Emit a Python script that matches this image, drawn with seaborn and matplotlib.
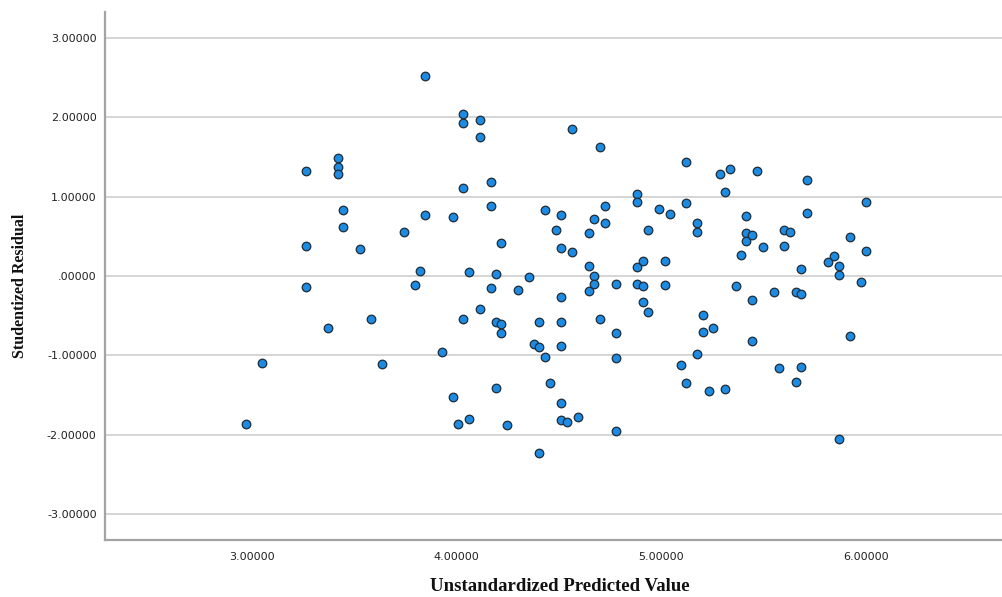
import matplotlib
matplotlib.use("Agg")
import matplotlib.pyplot as plt
import seaborn as sns
import pandas as pd

# Unstandardized predicted values of the regression model
predicted = [
    2.969, 3.049, 3.263, 3.263, 3.263, 3.369, 3.420, 3.420, 3.420, 3.447,
    3.447, 3.529, 3.581, 3.635, 3.741, 3.795, 3.819, 3.847, 3.847, 3.927,
    3.981, 3.981, 4.007, 4.033, 4.033, 4.033, 4.033, 4.061, 4.061, 4.113,
    4.113, 4.113, 4.167, 4.167, 4.167, 4.193, 4.193, 4.193, 4.219, 4.219,
    4.219, 4.247, 4.300, 4.352, 4.379, 4.405, 4.405, 4.405, 4.434, 4.434,
    4.456, 4.486, 4.512, 4.512, 4.512, 4.512, 4.512, 4.512, 4.512, 4.540,
    4.566, 4.566, 4.592, 4.646, 4.646, 4.646, 4.672, 4.674, 4.674, 4.700,
    4.700, 4.726, 4.726, 4.780, 4.780, 4.780, 4.780, 4.884, 4.884, 4.884,
    4.884, 4.912, 4.912, 4.912, 4.938, 4.938, 4.992, 5.018, 5.018, 5.046,
    5.098, 5.124, 5.124, 5.124, 5.178, 5.178, 5.178, 5.203, 5.203, 5.232,
    5.256, 5.286, 5.312, 5.312, 5.338, 5.366, 5.389, 5.416, 5.416, 5.416,
    5.446, 5.445, 5.445, 5.470, 5.498, 5.553, 5.578, 5.603, 5.603, 5.632,
    5.659, 5.659, 5.683, 5.683, 5.683, 5.712, 5.712, 5.816, 5.844, 5.870,
    5.870, 5.870, 5.924, 5.924, 5.977, 6.004, 6.004,
]

# Studentized residuals for the same cases
residual = [
    -1.862, -1.093, 1.324, 0.382, -0.135, -0.655, 1.483, 1.378, 1.282, 0.832,
    0.622, 0.340, -0.542, -1.109, 0.559, -0.118, 0.067, 2.525, 0.765, -0.962,
    0.744, -1.529, -1.866, 2.038, 1.933, 1.105, -0.546, 0.050, -1.807, 1.967,
    1.756, -0.412, 1.189, 0.878, -0.151, 0.029, -0.584, -1.412, 0.416, -0.609,
    -0.718, -1.874, -0.172, -0.008, -0.861, -0.580, -0.891, -2.227, 0.838, -1.017,
    -1.349, 0.584, 0.765, 0.353, -0.265, -0.576, -0.887, -1.605, -1.811, -1.836,
    1.849, 0.303, -1.777, 0.538, 0.130, -0.185, 0.723, 0.000, -0.101, 1.622,
    -0.542, 0.878, 0.672, -0.101, -0.718, -1.029, -1.958, 1.038, 0.933, 0.109,
    -0.097, 0.189, -0.122, -0.328, 0.576, -0.454, 0.840, 0.189, -0.118, 0.786,
    -1.122, 1.437, 0.920, -1.349, 0.664, 0.559, -0.987, -0.496, -0.702, -1.450,
    -0.651, 1.286, 1.059, -1.420, 1.345, -0.130, 0.261, 0.752, 0.542, 0.437,
    0.521, -0.307, -0.824, 1.327, 0.370, -0.202, -1.155, 0.580, 0.374, 0.555,
    -0.198, -1.336, 0.092, -0.223, -1.151, 1.206, 0.794, 0.172, 0.252, 0.126,
    0.017, -2.059, 0.492, -0.760, -0.080, 0.937, 0.315,
]

x_ticks = [3.0, 4.0, 5.0, 6.0]
y_ticks = [-3.0, -2.0, -1.0, 0.0, 1.0, 2.0, 3.0]


def fmt(v):
    s = f"{v:.5f}"
    if s.startswith("0."):
        s = s[1:]
    return s


df = pd.DataFrame({"pred": predicted, "resid": residual})

sns.set_style("white")
plt.rcParams["font.family"] = ["DejaVu Sans"]

fig = plt.figure(figsize=(10.02, 5.97), dpi=100)
ax = fig.add_axes([105 / 1002, 57 / 597, 1 - 105 / 1002, 528 / 597])

sns.scatterplot(
    data=df, x="pred", y="resid", ax=ax,
    s=38, color="#1e8be3", edgecolor="#1c2b38", linewidth=0.9,
    zorder=3, legend=False,
)

ax.set_xlim(2.281, 6.667)
ax.set_ylim(-3.328, 3.328)
ax.set_xticks(x_ticks)
ax.set_yticks(y_ticks)
ax.set_xticklabels([fmt(v) for v in x_ticks])
ax.set_yticklabels([fmt(v) for v in y_ticks])
ax.tick_params(axis="both", length=0, labelsize=8, colors="#222222")
ax.tick_params(axis="x", pad=9)
ax.tick_params(axis="y", pad=6)

ax.yaxis.grid(True, color="#d2d2d2", linewidth=1.3, zorder=0)
ax.xaxis.grid(False)
ax.set_axisbelow(True)

for side in ("top", "right"):
    ax.spines[side].set_visible(False)
for side in ("left", "bottom"):
    ax.spines[side].set_color("#a3a3a3")
    ax.spines[side].set_linewidth(1.6)

serif = dict(family="Liberation Serif", fontweight="bold", color="#111111")
ax.set_xlabel("Unstandardized Predicted Value", fontsize=13.5, va="center", **serif)
ax.set_ylabel("Studentized Residual", fontsize=11.5, va="center", **serif)
ax.xaxis.set_label_coords(0.507, -0.089)
ax.yaxis.set_label_coords(-0.095, 0.481)

fig.savefig("out.png", dpi=100)
